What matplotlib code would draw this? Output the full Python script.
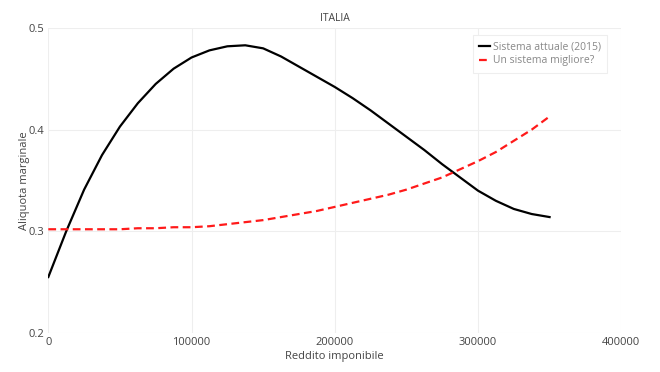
import matplotlib
matplotlib.use("Agg")
import matplotlib.pyplot as plt

plt.rcParams['font.family'] = ['Open Sans', 'DejaVu Sans']

reddito = [0, 12500, 25000, 37500, 50000, 62500, 75000, 87500, 100000, 112500,
           125000, 137500, 150000, 162500, 175000, 187500, 200000, 212500,
           225000, 237500, 250000, 262500, 275000, 287500, 300000, 312500,
           325000, 337500, 350000]
attuale = [0.255, 0.300, 0.341, 0.375, 0.403, 0.426, 0.445, 0.460, 0.471, 0.478,
           0.482, 0.483, 0.480, 0.472, 0.462, 0.452, 0.442, 0.431,
           0.419, 0.406, 0.393, 0.380, 0.366, 0.353, 0.340, 0.330,
           0.322, 0.317, 0.314]
migliore = [0.302, 0.302, 0.302, 0.302, 0.302, 0.303, 0.303, 0.304, 0.304, 0.305,
            0.307, 0.309, 0.311, 0.314, 0.317, 0.320, 0.324, 0.328,
            0.332, 0.336, 0.341, 0.347, 0.353, 0.361, 0.369, 0.378,
            0.389, 0.400, 0.413]

fig = plt.figure(figsize=(6.6, 3.72), dpi=100)
ax = fig.add_axes([0.0732, 0.105, 0.868, 0.8197])

ax.plot(reddito, attuale, color='black', lw=1.6, label='Sistema attuale (2015)')
ax.plot(reddito, migliore, color='#ff1a1a', lw=1.6, dashes=(3.5, 2),
        label='Un sistema migliore?')

ax.set_xlim(0, 400000)
ax.set_ylim(0.2, 0.5)
ax.set_xticks([0, 100000, 200000, 300000, 400000])
ax.set_yticks([0.2, 0.3, 0.4, 0.5])
ax.set_yticklabels(['0.2', '0.3', '0.4', '0.5'])
ax.grid(color='#eeeeee', lw=0.8)
ax.set_axisbelow(True)
for s in ax.spines.values():
    s.set_visible(False)
ax.tick_params(length=0, labelsize=8, colors='#444444', pad=3)

ax.set_xlabel('Reddito imponibile', fontsize=8, color='#444444', labelpad=2)
ax.set_ylabel('Aliquota marginale', fontsize=8, color='#444444', labelpad=-1)
ax.set_title('ITALIA', fontsize=7.5, color='#444444', pad=5)

leg = ax.legend(loc='upper right', bbox_to_anchor=(0.9756, 0.977), fontsize=7.5,
                handlelength=1.0, handletextpad=0.3, borderpad=0.6,
                borderaxespad=0, labelspacing=0.3, fancybox=False, framealpha=1)
leg.get_frame().set_edgecolor('#eeeeee')
leg.get_frame().set_linewidth(0.8)
for t in leg.get_texts():
    t.set_color('#888888')

fig.savefig('out.png', dpi=100)
